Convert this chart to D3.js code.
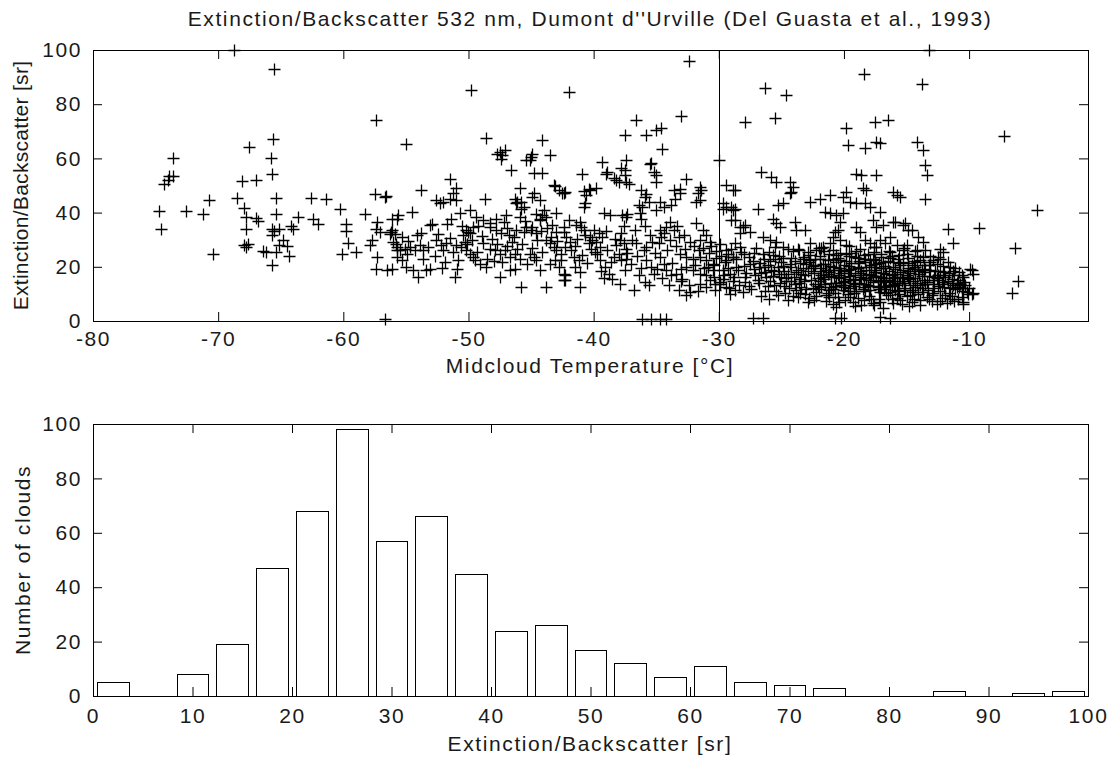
<!DOCTYPE html>
<html>
<head>
<meta charset="utf-8">
<title>Extinction/Backscatter 532 nm</title>
<script src="https://cdn.jsdelivr.net/npm/d3@7"></script>
<style>
    body { margin: 0; background: #fff; }
    svg text { font-family: "Liberation Sans", Arial, sans-serif; fill: #1a1a1a; }
</style>
</head>
<body>
<svg id="chart" width="1115" height="760"></svg>
<script>
    // axis ticks
    const tempTicks = [-80, -70, -60, -50, -40, -30, -20, -10];
    const ratioTicks = [0, 20, 40, 60, 80, 100];
    const histTicks = [0, 10, 20, 30, 40, 50, 60, 70, 80, 90, 100];

    // histogram: bin centres and number of clouds per bin
    const binCenters = [2, 6, 10, 14, 18, 22, 26, 30, 34, 38, 42, 46, 50, 54, 58, 62, 66, 70, 74, 78, 82, 86, 90, 94, 98];
    const binCounts  = [5, 0, 8, 19, 47, 68, 98, 57, 66, 45, 24, 26, 17, 12, 7, 11, 5, 4, 3, 0, 0, 2, 0, 1, 2];

    // scatter: [midcloud temperature, extinction/backscatter]
    const cloudPoints = [
        // -75 .. -55
        [-74.7,40.6],[-74.6,33.8],[-74.3,50.4],[-74.0,52.2],[-73.9,53.4],[-73.6,53.4],[-73.6,60.3],[-72.6,40.6],
        [-71.2,39.6],[-70.7,44.5],[-70.4,24.6],[-68.5,45.5],[-68.1,51.5],[-67.9,41.7],[-67.8,38.4],[-67.5,64.2],
        [-67.0,52.2],[-67.8,34.0],[-67.9,27.9],[-67.8,27.3],[-67.6,28.3],[-67.0,38.1],[-66.8,36.9],[-66.4,25.8],
        [-66.2,25.5],[-65.8,60.3],[-65.6,67.3],[-65.7,54.4],[-65.4,45.5],[-65.4,39.6],[-65.7,34.1],[-65.5,33.2],
        [-65.1,34.1],[-65.7,31.6],[-65.7,20.8],[-65.4,25.5],[-65.1,27.9],[-64.8,29.8],[-64.5,27.7],[-64.3,23.9],
        [-64.2,34.9],[-64.0,34.1],[-63.6,38.4],[-62.6,45.5],[-62.4,37.8],[-62.0,35.7],[-61.4,44.9],[-60.3,41.5],
        [-59.8,35.7],[-59.8,33.2],[-60.1,24.6],[-59.6,28.8],[-59.0,25.5],[-58.3,39.6],[-57.9,27.9],[-57.7,29.8],
        [-57.4,74.0],[-57.5,47.0],[-56.6,46.1],[-57.4,34.1],[-57.3,36.5],[-57.1,32.8],[-57.4,19.3],[-57.3,23.6],
        [-56.5,18.9],[-56.1,37.8],[-56.2,32.8],[-55.9,32.2],[-55.7,26.1],[-55.8,28.5],[-56.7,0.9],[-68.7,100],[-65.5,93.0],
        // high values
        [-49.8,85.3],[-42.0,84.6],[-32.4,95.9],[-26.3,85.8],[-24.6,83.4],[-18.4,91.2],[-13.8,87.5],[-13.2,100],
        [-27.9,73.5],[-25.5,74.8],[-19.8,71.3],[-17.5,73.5],[-16.5,74.1],[-19.7,64.9],[-18.3,63.7],[-17.4,66.1],
        [-17.1,65.5],[-14.2,66.1],[-13.7,63.1],[-13.5,57.5],[-13.4,53.8],[-13.5,45.2],[-30.0,59.4],[-7.2,68.2],
        [-4.6,41.1],[-9.2,34.5],[-11.7,34.1],[-11.3,28.6],[-6.3,27.0],[-6.1,14.7],[-6.6,10.3],[-9.8,18.7],
        [-9.7,10.3],[-10.5,7.0],
        // near zero
        [-36.1,0.9],[-35.4,0.9],[-34.7,0.9],[-34.2,0.9],[-27.3,1.0],[-26.5,1.0],[-20.7,1.0],[-20.2,1.0],[-17.1,1.5],[-16.3,1.0],
        // -57 .. -27 upper part
        [-55.0,65.4],[-48.6,67.5],[-47.7,61.7],[-47.5,62.4],[-47.3,61.1],[-47.1,63.0],[-47.4,59.9],[-46.6,55.6],
        [-44.1,66.9],[-45.0,60.5],[-45.1,59.5],[-45.4,59.3],[-44.9,61.7],[-43.5,61.1],[-44.8,54.6],[-44.1,54.6],
        [-51.5,52.5],[-53.8,48.2],[-56.7,45.8],[-54.5,40.2],[-55.7,37.8],[-56.1,33.5],[-56.3,32.2],[-53.1,35.3],
        [-51.7,35.9],[-48.7,45.1],[-45.9,49.2],[-46.3,45.1],[-46.1,43.9],[-45.8,41.5],[-45.9,38.4],[-44.9,45.8],
        [-44.6,39.6],[-44.1,39.0],[-44.3,37.8],[-44.9,34.7],[-43.1,49.7],[-42.5,47.2],[-40.9,54.1],[-40.4,48.8],
        [-40.8,47.9],[-39.8,49.2],[-39.3,58.7],[-38.9,55.0],[-38.2,51.9],[-37.5,68.5],[-37.4,59.3],[-37.5,55.6],
        [-37.4,51.3],[-36.6,74.3],[-35.8,68.5],[-35.0,70.6],[-34.6,71.3],[-34.5,63.6],[-33.0,75.5],[-35.4,58.3],
        [-35.2,55.0],[-35.0,51.3],[-36.2,48.2],[-35.8,47.0],[-36.1,42.1],[-37.7,39.0],[-37.3,39.6],[-32.6,52.5],
        [-33.1,48.8],[-33.6,48.5],[-31.5,49.4],[-31.4,48.2],[-31.5,44.5],[-29.4,50.1],[-28.7,48.5],[-29.7,41.5],
        [-28.7,41.5],[-28.3,34.7],[-27.9,35.3],[-27.5,32.8],
        // -56 .. -42
        [-51.0,48.9],[-51.2,47.1],[-51.5,45.2],[-51.0,44.6],[-52.6,44.6],[-52.3,43.4],[-52.0,44.0],[-55.6,39.0],
        [-50.7,39.7],[-49.9,40.9],[-49.4,38.4],[-48.8,37.2],[-48.3,36.0],[-50.2,33.5],[-49.9,32.3],[-49.6,34.7],
        [-47.8,37.8],[-47.2,36.6],[-47.0,39.0],[-45.8,44.0],[-45.6,42.1],[-46.2,43.4],[-44.8,47.1],[-44.3,44.6],
        [-44.0,40.9],[-43.8,38.4],[-44.3,37.2],[-43.2,50.1],[-42.8,48.3],[-42.4,47.1],[-43.0,39.7],[-42.4,34.7],
        [-42.0,37.2],[-56.0,29.2],[-55.7,27.4],[-55.5,26.1],[-55.1,26.7],[-54.7,27.4],[-54.3,26.1],[-53.9,28.0],
        [-53.6,26.1],[-55.7,23.6],[-55.3,22.4],[-55.0,20.0],[-54.4,18.7],[-54.0,16.3],[-53.4,18.7],[-53.1,19.3],
        [-56.1,19.3],[-52.6,29.8],[-52.2,28.0],[-52.0,26.1],[-51.8,28.6],[-51.1,16.3],[-51.0,28.0],[-50.6,27.4],
        [-50.3,29.2],[-50.2,26.1],[-49.9,24.9],[-49.6,23.6],[-50.4,31.7],[-50.0,32.9],[-49.5,22.4],[-49.1,21.2],
        [-48.6,20.0],[-48.8,28.6],[-48.3,26.7],[-47.9,26.1],[-47.5,24.9],[-47.1,26.1],[-46.7,23.6],[-46.3,24.9],
        [-45.9,23.0],[-48.3,34.7],[-47.8,33.5],[-47.4,32.3],[-46.8,31.7],[-46.4,31.0],[-46.2,33.5],[-45.6,32.9],
        [-47.5,16.3],[-46.7,18.7],[-46.3,19.3],[-45.8,12.6],[-45.4,34.7],[-45.0,33.5],[-44.6,32.3],[-45.1,24.9],
        [-44.8,23.6],[-44.6,22.4],[-44.3,18.7],[-43.8,12.6],[-43.5,28.6],[-43.2,27.4],[-43.0,26.1],[-43.8,29.8],
        [-43.4,31.0],[-43.1,22.4],[-43.5,21.2],[-42.8,20.0],[-42.4,17.5],[-42.3,15.0],
        [-55.3,31.1],[-54.8,29.7],[-54.1,31.8],[-53.6,22.9],[-53.2,27.3],[-52.7,24.1],[-52.4,32.1],[-51.9,21.9],
        [-51.5,30.7],[-51.2,25.3],[-50.8,22.6],[-50.5,35.2],[-50.1,28.5],[-49.7,29.8],[-49.3,25.6],[-48.9,31.5],
        [-48.5,23.0],[-48.1,30.2],[-47.7,28.4],[-47.3,21.8],[-46.9,27.6],[-46.5,29.1],[-46.1,26.7],[-45.7,28.3],
        [-45.3,21.2],[-44.9,27.1],[-44.5,29.9],[-44.1,25.5],[-43.7,34.2],[-43.3,35.6],[-42.9,29.4],[-42.6,22.6],
        [-54.9,24.8],[-53.8,32.5],[-52.9,35.8],[-52.1,19.4],[-51.4,37.6],[-50.9,19.1],[-49.2,34.9],[-48.0,22.1],
        [-46.9,34.4],[-45.5,36.9],[-44.2,33.2],[-43.0,33.0],
        // -43 .. -29
        [-35.5,58.1],[-35.0,53.8],[-39.0,54.4],[-38.4,52.6],[-38.0,51.4],[-37.8,56.3],[-37.5,53.8],[-37.2,50.7],
        [-42.3,47.7],[-40.6,46.4],[-40.3,48.3],[-40.8,42.1],[-40.7,43.4],[-33.1,47.1],[-33.5,45.2],[-33.8,42.7],
        [-31.7,47.1],[-31.8,43.9],[-35.9,45.8],[-35.6,44.0],[-34.7,44.0],[-34.4,42.1],[-35.0,40.9],[-36.4,42.7],
        [-36.3,39.7],[-36.2,37.8],[-37.4,38.4],[-38.7,39.0],[-39.2,39.7],[-41.1,36.6],[-41.4,35.4],[-41.0,34.7],
        [-40.8,33.5],[-40.0,33.5],[-39.6,32.3],[-40.3,31.0],[-39.8,29.2],[-39.5,27.4],[-40.4,28.6],[-40.2,26.7],
        [-34.7,33.5],[-34.4,32.3],[-34.2,34.7],[-33.6,33.5],[-33.2,31.0],[-33.9,29.8],[-31.8,36.0],[-31.3,33.5],
        [-31.0,31.7],[-30.7,29.2],[-31.5,29.8],[-37.9,29.8],[-37.6,28.6],[-37.4,26.7],[-38.0,24.9],[-38.4,23.6],
        [-37.8,22.4],[-37.4,23.0],[-37.0,21.2],[-36.6,28.6],[-36.0,26.1],[-42.4,32.9],[-42.2,31.0],[-41.9,29.2],
        [-42.3,27.4],[-42.6,24.9],[-41.6,23.6],[-41.2,22.4],[-41.5,20.0],[-41.1,18.1],[-42.3,16.9],[-42.4,15.0],
        [-41.1,12.6],[-39.5,22.4],[-39.1,20.0],[-38.8,17.5],[-39.2,15.7],[-37.9,13.8],[-36.8,11.3],[-35.8,22.4],
        [-35.4,20.0],[-35.2,17.5],[-35.6,13.2],[-34.7,23.6],[-34.4,21.2],[-34.2,18.7],[-33.8,16.9],[-33.4,17.5],
        [-33.0,19.3],[-33.2,11.3],[-32.6,9.5],[-32.3,10.7],[-33.1,24.9],[-32.6,23.6],[-32.1,23.0],[-31.5,23.6],
        [-31.0,22.4],[-30.5,21.2],[-32.6,20.0],[-32.1,18.7],[-31.5,17.5],[-31.0,16.9],[-30.5,18.7],[-30.7,15.0],
        [-31.5,13.8],[-31.0,12.6],[-29.9,13.8],[-29.4,12.6],[-29.7,15.6],[-29.1,17.5],[-29.4,22.4],[-28.9,23.6],
        [-29.4,26.1],[-28.7,28.6],[-29.7,43.4],[-29.4,42.1],[-28.9,40.9],[-29.0,37.2],
        [-41.8,26.1],[-41.3,30.4],[-40.9,24.2],[-40.5,21.5],[-40.1,29.8],[-39.7,24.8],[-39.3,30.9],[-38.9,26.3],
        [-38.6,21.9],[-38.2,28.1],[-37.8,32.5],[-37.3,25.2],[-36.9,30.0],[-36.5,23.9],[-36.2,19.4],[-35.8,27.2],
        [-35.5,31.6],[-35.1,25.0],[-34.8,28.7],[-34.5,16.0],[-34.1,26.2],[-33.7,21.3],[-33.4,27.8],[-33.0,14.6],
        [-32.7,26.6],[-32.3,29.0],[-31.9,20.8],[-31.6,26.3],[-31.2,19.4],[-30.8,25.2],[-30.4,16.4],[-30.2,23.1],
        [-41.5,27.6],[-40.7,31.9],[-39.9,25.6],[-39.0,33.1],[-38.3,30.3],[-37.6,35.2],[-36.7,33.4],[-35.9,35.0],
        [-35.3,29.2],[-34.6,30.9],[-33.9,36.5],[-33.3,35.1],[-32.8,31.7],[-32.0,27.5],[-31.3,26.9],[-30.6,27.6],
        [-39.4,18.6],[-38.5,15.5],[-37.5,19.0],[-36.4,16.9],[-35.9,14.4],[-34.9,19.3],[-34.0,13.2],[-32.9,15.6],
        [-32.4,13.1],[-31.7,11.0],[-30.9,20.1],[-30.3,11.4],
        // -29 .. -14 upper part
        [-26.6,55.1],[-25.8,53.2],[-25.4,51.4],[-24.3,51.4],[-24.1,49.5],[-24.3,47.1],[-24.2,47.7],[-19.0,54.4],
        [-18.6,53.8],[-17.4,53.8],[-18.5,48.9],[-18.2,48.3],[-16.1,47.7],[-15.8,46.4],[-19.8,47.7],[-21.1,46.4],
        [-20.1,45.8],[-19.5,44.0],[-19.0,43.4],[-18.3,43.4],[-17.9,42.1],[-21.9,45.2],[-22.7,44.0],[-24.9,43.4],
        [-25.3,42.7],[-26.9,41.5],[-28.9,48.3],[-29.0,42.1],[-21.5,40.3],[-21.1,39.7],[-20.6,39.0],[-20.1,39.7],
        [-17.1,40.3],[-17.7,37.2],[-17.4,34.7],[-16.9,35.4],[-16.1,36.6],[-15.3,35.4],[-14.9,33.5],[-25.7,37.8],
        [-25.4,36.0],[-25.1,34.7],[-23.9,36.6],[-23.8,33.5],[-23.1,33.5],[-20.3,36.6],[-20.5,33.5],[-20.7,32.9],
        [-19.0,34.7],[-18.7,32.9],[-18.3,29.8],[-17.9,28.6],[-28.7,37.2],[-28.1,34.7],[-28.3,32.3],[-26.5,31.0],
        [-25.9,29.8],[-25.4,29.2],[-24.9,27.4],[-24.5,26.7],[-23.7,26.7],[-22.7,28.6],[-22.2,26.1],[-21.7,27.4],
        [-21.1,28.6],[-20.9,31.0],[-20.3,29.8],[-19.8,28.0],[-17.1,29.8],[-16.7,28.6],[-16.3,31.0],[-15.8,28.0],
        [-15.3,26.1],[-15.0,28.0],[-17.4,27.4],
        // -16 .. -9
        [-15.5,45.8],[-15.9,36.6],[-15.1,36.0],[-14.6,33.5],[-14.1,31.0],[-13.7,29.2],[-13.5,26.1],[-12.3,26.7],
        [-12.1,25.5],[-12.3,23.0],[-14.2,26.1],[-13.9,22.4],[-12.9,22.4],[-9.9,19.3],[-9.7,17.5],[-11.5,19.9],
        [-10.6,16.9],[-9.8,10.1],[-10.6,8.9],[-10.5,6.4],[-10.2,10.7],
        // dense cluster -30 .. -22
        [-29.8,24.1],[-29.5,21.8],[-29.3,19.5],[-29.0,26.5],[-28.8,16.2],[-28.6,22.9],[-28.4,13.1],[-28.2,25.3],
        [-28.0,20.4],[-27.8,17.7],[-27.6,23.8],[-27.4,11.9],[-27.2,19.1],[-27.0,26.8],[-26.9,15.0],[-26.7,21.5],
        [-26.5,24.6],[-26.3,18.0],[-26.1,12.8],[-25.9,22.2],[-25.7,16.6],[-25.5,27.4],[-25.3,19.8],[-25.1,14.1],
        [-24.9,23.3],[-24.7,10.5],[-24.5,17.2],[-24.3,21.0],[-24.1,25.9],[-23.9,13.6],[-23.7,19.0],[-23.5,15.4],
        [-23.3,22.7],[-23.1,9.8],[-22.9,18.3],[-22.7,24.4],[-22.5,12.2],[-22.3,20.6],[-22.1,16.0],[-29.9,14.5],
        [-29.6,17.0],[-29.2,12.0],[-28.9,23.5],[-28.5,18.8],[-28.1,10.6],[-27.9,14.4],[-27.5,21.0],[-27.1,16.8],
        [-26.6,9.2],[-26.4,20.0],[-26.0,25.6],[-25.6,13.3],[-25.2,24.0],[-24.8,18.6],[-24.4,12.0],[-24.0,16.4],
        [-23.6,26.2],[-23.2,14.8],[-22.8,21.9],[-22.4,7.9],[-22.0,26.9],[-30.4,20.5],[-30.2,25.8],[-30.3,13.5],
        [-29.7,19.0],[-29.3,24.8],[-28.9,14.7],[-28.6,20.1],[-28.3,27.2],[-27.9,16.3],[-27.6,12.8],[-27.3,22.2],
        [-29.1,9.8],[-28.0,24.6],[-27.2,25.0],[-29.9,28.5],[-28.7,11.5],
        [-26.3,11.0],[-25.6,18.4],[-24.8,12.9],[-24.2,14.7],[-25.0,16.1],[-26.1,20.6],
        // dense cluster -22 .. -14
        [-21.8,27.0],[-20.9,26.2],[-19.6,27.5],[-18.7,26.4],[-17.6,27.2],[-16.4,26.0],[-15.2,26.9],[-14.3,25.8],
        [-21.9,23.9],[-21.2,24.6],[-20.5,23.2],[-19.8,24.8],[-19.1,23.5],[-18.4,24.3],[-17.7,23.0],[-17.0,24.7],
        [-16.3,23.4],[-15.6,24.2],[-14.9,23.1],[-14.2,24.0],[-21.7,21.2],[-21.1,20.3],[-20.6,21.8],[-20.0,20.6],
        [-19.4,21.5],[-18.9,20.1],[-18.3,21.9],[-17.8,20.8],[-17.2,21.4],[-16.7,20.2],[-16.1,21.7],[-15.5,20.5],
        [-14.9,21.3],[-14.3,20.0],[-21.9,18.4],[-21.3,17.3],[-20.8,18.9],[-20.2,17.6],[-19.7,18.7],[-19.1,17.1],
        [-18.6,18.3],[-18.0,17.5],[-17.5,19.0],[-16.9,17.8],[-16.4,18.6],[-15.8,17.2],[-15.3,18.8],[-14.7,17.6],
        [-14.1,18.5],[-21.6,15.5],[-21.0,14.2],[-20.4,15.9],[-19.9,14.6],[-19.3,15.3],[-18.8,14.0],[-18.2,15.7],
        [-17.7,14.4],[-17.1,15.1],[-16.6,14.3],[-16.0,15.8],[-15.4,14.7],[-14.8,15.4],[-14.2,14.1],[-21.8,12.5],
        [-21.2,11.4],[-20.7,12.9],[-20.1,11.6],[-19.5,12.2],[-19.0,11.0],[-18.4,12.7],[-17.9,11.3],[-17.3,12.4],
        [-16.8,11.8],[-16.2,12.9],[-15.7,11.1],[-15.1,12.3],[-14.5,11.5],[-21.4,9.6],[-20.5,8.7],[-19.7,9.9],
        [-18.9,8.4],[-18.0,9.3],[-17.2,8.1],[-16.5,9.7],[-15.8,8.6],[-15.0,9.2],[-14.4,8.0],[-20.9,6.4],
        [-19.3,7.0],[-17.6,5.8],[-16.1,6.6],[-14.8,5.5],[-20.3,19.6],[-19.6,16.5],[-18.9,19.4],[-18.1,13.3],
        [-17.4,16.6],[-16.7,19.5],[-16.0,13.6],[-15.5,16.4],[-19.9,13.1],[-18.5,16.9],[-17.0,13.0],[-15.9,19.1],
        [-20.8,16.4],[-17.9,22.5],[-16.6,10.3],[-19.2,10.2],
        [-26.8,13.9],[-26.2,16.1],[-25.8,19.0],[-25.4,11.2],[-25.0,21.6],[-24.6,14.9],[-24.2,19.9],[-23.8,11.4],
        [-23.4,17.4],[-23.0,20.9],[-22.6,15.1],[-22.2,10.8],[-21.8,19.5],[-21.5,13.6],[-21.3,22.4],[-21.0,16.6],
        [-20.7,10.2],[-20.4,19.0],[-20.1,14.4],[-19.8,22.1],[-19.5,17.8],[-19.2,12.8],[-18.9,23.2],[-18.6,15.5],
        [-18.3,10.9],[-18.0,19.8],[-17.7,16.2],[-17.4,21.0],[-17.1,10.6],[-16.8,16.0],[-16.5,22.3],[-16.2,17.1],
        [-15.9,11.6],[-15.6,14.0],[-15.3,21.9],[-15.0,17.0],[-14.7,13.1],[-14.4,19.3],[-14.1,9.9],
        [-26.4,22.8],[-25.7,24.5],[-24.9,20.3],[-24.2,23.1],[-23.5,21.4],[-22.9,25.3],[-22.3,23.0],[-21.6,25.7],
        [-20.9,22.9],[-20.3,25.1],[-19.6,23.9],[-19.0,26.0],[-18.3,22.8],[-17.6,25.6],[-17.0,23.5],[-16.3,25.3],
        [-15.7,22.7],[-15.0,24.6],[-14.4,22.1],
        [-26.0,8.3],[-25.3,9.7],[-24.5,7.6],[-23.7,8.9],[-22.9,6.9],[-22.2,9.1],[-21.4,7.3],[-20.6,5.2],
        [-19.9,7.9],[-19.1,5.6],[-18.4,7.7],[-17.7,6.8],[-16.9,4.9],[-16.2,8.2],[-15.4,6.2],[-14.6,7.1],
        [-21.9,14.7],[-21.4,18.9],[-20.9,11.8],[-20.5,16.9],[-20.0,12.7],[-19.6,20.4],[-19.3,14.0],[-18.7,17.7],
        [-18.4,13.8],[-17.9,15.2],[-17.5,18.1],[-17.2,11.9],[-16.9,14.8],[-16.6,17.4],[-16.3,13.2],[-15.9,16.3],
        [-15.6,10.1],[-15.2,13.9],[-14.9,18.3],[-14.6,10.8],[-14.3,15.9],
        [-22.6,19.6],[-23.1,17.0],[-23.9,22.0],[-24.6,16.0],[-25.2,17.5],[-25.9,14.6],[-26.6,17.6],[-22.3,13.6],
        [-23.4,12.6],[-24.1,9.4],[-25.5,22.9],[-26.8,19.9],
        [-23.6,14.2],[-23.3,19.6],[-23.0,11.7],[-22.7,22.6],[-22.4,17.8],[-22.1,13.0],[-21.8,16.9],[-21.5,21.0],
        [-21.2,9.0],[-20.9,19.8],[-20.6,14.1],[-20.3,22.4],[-20.0,16.1],[-19.7,11.2],[-19.4,19.1],[-19.1,13.7],
        [-18.8,21.3],[-18.5,11.7],[-18.2,18.9],[-17.9,13.0],[-17.6,20.1],[-17.3,14.9],[-17.0,19.4],[-16.7,12.5],
        [-16.4,15.2],[-16.1,19.9],[-15.8,13.3],[-15.5,18.2],[-15.2,11.3],[-14.9,16.2],[-14.6,20.7],[-14.3,12.4],
        [-23.8,17.9],[-23.2,23.6],[-22.5,20.4],[-21.9,22.7],[-21.2,18.1],[-20.6,24.4],[-20.0,18.3],[-19.4,25.2],
        [-18.8,22.0],[-18.1,24.8],[-17.5,22.4],[-16.9,21.9],[-16.2,23.9],[-15.6,21.4],[-14.9,19.6],[-14.2,21.7],
        [-23.5,10.3],[-22.8,8.4],[-22.0,11.9],[-21.3,10.5],[-20.4,7.1],[-19.5,8.8],[-18.6,6.0],[-17.8,8.3],
        [-17.1,7.0],[-16.3,10.7],[-15.5,7.6],[-14.7,9.6],
        [-21.7,16.2],[-21.0,12.5],[-20.2,13.4],[-19.5,15.6],[-18.7,16.1],[-17.8,17.0],[-17.0,16.3],[-16.1,14.6],
        [-15.3,15.9],[-14.5,14.8],
        // dense cluster -14 .. -10
        [-13.5,19.2],[-13.2,16.5],[-12.9,13.8],[-12.6,21.1],[-12.3,11.0],[-12.0,17.9],[-11.7,14.6],[-11.4,9.3],
        [-11.1,19.6],[-10.8,12.7],[-10.5,16.1],[-13.8,12.0],[-13.4,9.0],[-13.0,7.2],[-12.7,18.4],[-12.4,15.2],
        [-12.1,20.4],[-11.8,6.8],[-11.5,12.2],[-11.2,16.9],[-10.9,8.2],[-13.6,15.0],[-13.1,24.0],[-12.2,8.5],
        [-11.0,14.0],[-10.3,13.2],[-10.1,10.0],
        [-13.8,16.7],[-13.5,13.5],[-13.2,20.5],[-12.9,10.4],[-12.6,15.8],[-12.3,18.6],[-12.0,12.6],[-11.7,21.6],
        [-11.4,15.5],[-11.1,11.7],[-10.8,18.0],[-10.5,10.9],[-13.7,23.7],[-13.1,21.9],[-12.5,23.6],[-13.9,5.9],
        [-13.2,8.1],[-12.6,6.1],[-11.9,9.6],[-11.2,7.5],[-10.6,12.0],[-13.9,13.2],[-13.6,18.0],[-13.3,11.4],
        [-12.8,16.3],[-12.5,12.8],[-12.1,14.3],[-11.6,17.7],[-11.3,13.4],[-10.9,15.3],[-10.4,14.5],[-10.0,12.2],
        [-14.0,17.2],[-13.7,10.6],[-13.4,14.3],[-13.1,18.9],[-12.8,12.1],[-12.5,17.0],[-12.2,13.5],[-11.9,16.4],
        [-11.6,10.5],[-11.3,18.3],[-11.0,12.6],[-13.6,20.8],[-13.9,7.8],[-13.0,9.5],[-12.3,7.4],[-11.5,8.3],
        [-13.8,19.0],[-12.9,15.1],[-12.1,16.8],[-11.4,14.0],[-10.7,13.6]
    ];

    const fontSize = 21;
    const letterSpacing = 1.6;
    const tickLen = 9;
    const markArm = 6;

    const svg = d3.select('#chart');

    // two panels share the same horizontal extent
    const topBox = {left: 93, right: 1088, top: 50, bottom: 321};
    const botBox = {left: 93, right: 1088, top: 424, bottom: 696};

    const xTemp = d3.scaleLinear().domain([-80, -0.5]).range([topBox.left, topBox.right]);
    const yRatio = d3.scaleLinear().domain([0, 100]).range([topBox.bottom, topBox.top]);
    const xHist = d3.scaleLinear().domain([0, 100]).range([botBox.left, botBox.right]);
    const yHist = d3.scaleLinear().domain([0, 100]).range([botBox.bottom, botBox.top]);

    function styleAxis(g) {
        g.attr('font-size', null).attr('font-family', null);
        g.select('.domain').remove();
        g.selectAll('.tick line').attr('stroke', '#000');
        g.selectAll('.tick text')
            .attr('font-size', fontSize)
            .attr('fill', '#1a1a1a')
            .style('letter-spacing', letterSpacing + 'px');
    }

    function drawFrame(box, xScale, yScale, xTicks, yTicks, xPad) {
        svg.append('rect')
            .attr('x', box.left + 0.5)
            .attr('y', box.top + 0.5)
            .attr('width', box.right - box.left)
            .attr('height', box.bottom - box.top)
            .attr('fill', 'none')
            .attr('stroke', '#000')
            .attr('shape-rendering', 'crispEdges');

        svg.append('g')
            .attr('transform', `translate(0,${box.bottom})`)
            .call(d3.axisBottom(xScale).tickValues(xTicks).tickSizeInner(-tickLen).tickSizeOuter(0)
                .tickPadding(xPad).tickFormat(d => String(d)))
            .call(styleAxis);
        svg.append('g')
            .attr('transform', `translate(0,${box.top})`)
            .call(d3.axisTop(xScale).tickValues(xTicks).tickSizeInner(-tickLen).tickSizeOuter(0).tickFormat(''))
            .call(styleAxis);
        svg.append('g')
            .attr('transform', `translate(${box.left},0)`)
            .call(d3.axisLeft(yScale).tickValues(yTicks).tickSizeInner(-tickLen).tickSizeOuter(0)
                .tickPadding(11).tickFormat(d => String(d)))
            .call(styleAxis);
        svg.append('g')
            .attr('transform', `translate(${box.right},0)`)
            .call(d3.axisRight(yScale).tickValues(yTicks).tickSizeInner(-tickLen).tickSizeOuter(0).tickFormat(''))
            .call(styleAxis);
    }

    function label(text, x, y, rotate, spacing) {
        svg.append('text')
            .attr('transform', rotate ? `translate(${x},${y}) rotate(-90)` : `translate(${x},${y})`)
            .attr('text-anchor', 'middle')
            .attr('font-size', fontSize)
            .style('letter-spacing', spacing + 'px')
            .text(text);
    }

    // ---- top panel: scatter ----
    svg.append('line')
        .attr('x1', Math.round(xTemp(-30)) + 0.5).attr('x2', Math.round(xTemp(-30)) + 0.5)
        .attr('y1', yRatio(0)).attr('y2', yRatio(100))
        .attr('stroke', '#000')
        .attr('shape-rendering', 'crispEdges');

    const cross = (x, y) => {
        const px = Math.round(x) + 0.5, py = Math.round(y) + 0.5;
        return `M${px - markArm},${py}h${2 * markArm}M${px},${py - markArm}v${2 * markArm}`;
    };

    // slightly heavier than 1px so the crowded cluster fills in like the original
    svg.append('g')
        .selectAll('path')
        .data(cloudPoints)
        .join('path')
        .attr('d', d => cross(xTemp(d[0]), yRatio(d[1])))
        .attr('stroke', '#000')
        .attr('stroke-width', 1.3)
        .attr('fill', 'none');

    drawFrame(topBox, xTemp, yRatio, tempTicks, ratioTicks, 10);

    label("Extinction/Backscatter 532 nm, Dumont d''Urville (Del Guasta et al., 1993)", 590, 26, false, letterSpacing);
    label('Midcloud Temperature [°C]', 590, 373, false, letterSpacing);
    label('Extinction/Backscatter [sr]', 28, (topBox.top + topBox.bottom) / 2, true, 0.3);

    // ---- bottom panel: histogram ----
    const bins = binCenters.map((c, i) => ({center: c, count: binCounts[i]})).filter(d => d.count > 0);
    const barWidth = 3.2;

    svg.append('g')
        .selectAll('rect')
        .data(bins)
        .join('rect')
        .attr('x', d => Math.round(xHist(d.center - barWidth / 2)) + 0.5)
        .attr('y', d => Math.round(yHist(d.count)) + 0.5)
        .attr('width', d => Math.round(xHist(d.center + barWidth / 2)) - Math.round(xHist(d.center - barWidth / 2)))
        .attr('height', d => Math.round(yHist(0)) - Math.round(yHist(d.count)))
        .attr('fill', '#fff')
        .attr('stroke', '#000')
        .attr('shape-rendering', 'crispEdges');

    drawFrame(botBox, xHist, yHist, histTicks, ratioTicks, 12);

    label('Extinction/Backscatter  [sr]', 590, 751, false, letterSpacing);
    label('Number of clouds', 30, (botBox.top + botBox.bottom) / 2, true, letterSpacing);
</script>
</body>
</html>
